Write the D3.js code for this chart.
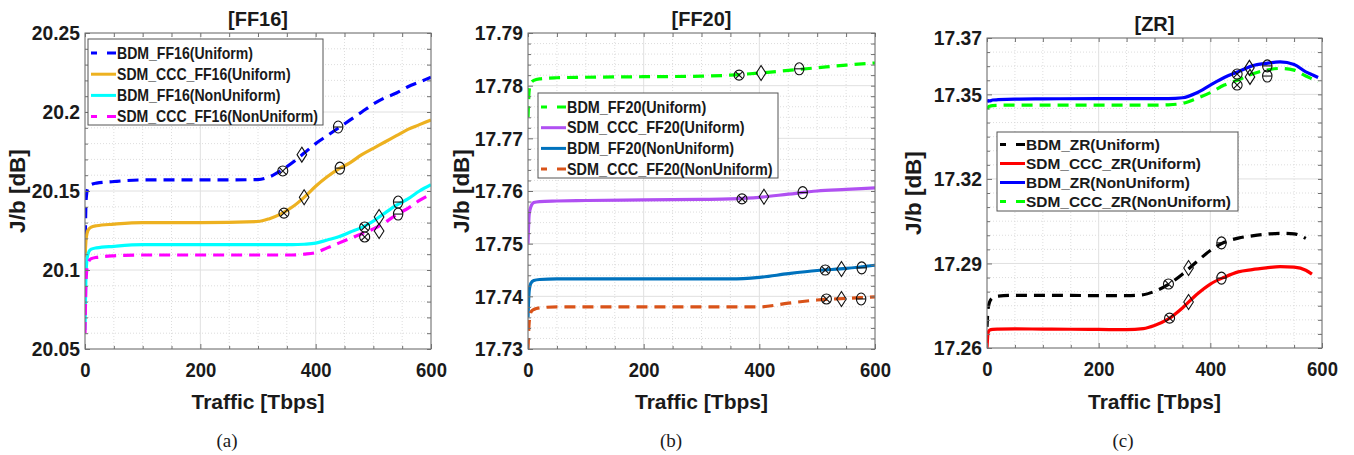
<!DOCTYPE html>
<html>
<head>
<meta charset="utf-8">
<script src="https://cdn.jsdelivr.net/npm/d3@7"></script>
<style>
  body { margin: 0; background: #fff; }
  svg { display: block; }
  text { font-family: "Liberation Sans", Arial, sans-serif; font-weight: bold; fill: #1a1a1a; }
</style>
</head>
<body>
<svg id="chart" width="1354" height="455"></svg>
<script>
// ---- shared ----
const xTicks = [0, 200, 400, 600];

// ---- panel (a) FF16 ----
const ff16X      = [0, 2, 5, 10, 20, 50, 100, 200, 300, 320, 340, 360, 380, 400, 420, 440, 460, 480, 500, 520, 540, 560, 580, 600];
const ff16BdmUni = [20.110, 20.145, 20.152, 20.154, 20.155, 20.156, 20.157, 20.157, 20.1572, 20.159, 20.163, 20.168, 20.174, 20.180, 20.185, 20.190, 20.195, 20.200, 20.205, 20.209, 20.212, 20.216, 20.219, 20.222];
const ff16SdmUni = [20.108, 20.120, 20.125, 20.127, 20.128, 20.129, 20.130, 20.130, 20.1307, 20.1325, 20.1355, 20.140, 20.146, 20.153, 20.159, 20.164, 20.168, 20.173, 20.177, 20.181, 20.185, 20.189, 20.192, 20.195];
const ff16BdmNon = [20.062, 20.100, 20.110, 20.113, 20.114, 20.115, 20.116, 20.116, 20.116, 20.116, 20.116, 20.116, 20.1163, 20.117, 20.119, 20.121, 20.124, 20.127, 20.131, 20.136, 20.141, 20.145, 20.150, 20.154];
const ff16SdmNon = [20.060, 20.095, 20.104, 20.107, 20.108, 20.109, 20.1095, 20.1095, 20.1095, 20.1095, 20.1095, 20.1095, 20.110, 20.111, 20.114, 20.117, 20.120, 20.123, 20.126, 20.130, 20.135, 20.139, 20.144, 20.148];
const ff16YTicks = [20.05, 20.1, 20.15, 20.2, 20.25];
const ff16Otimes  = [[343, 20.1627], [345, 20.136], [485, 20.1272], [485, 20.1209]];
const ff16Diamond = [[376, 20.173], [380, 20.146], [510, 20.1335], [510, 20.1247]];
const ff16Theta   = [[439, 20.1905], [442, 20.1645], [543, 20.143], [543, 20.1354]];

// ---- panel (b) FF20 ----
const ff20X      = [0, 2, 5, 10, 20, 50, 100, 200, 300, 350, 400, 450, 500, 550, 600];
const ff20BdmUni = [17.774, 17.779, 17.7805, 17.781, 17.7813, 17.7815, 17.7816, 17.7817, 17.7818, 17.782, 17.7824, 17.7829, 17.7834, 17.7839, 17.7843];
const ff20SdmUni = [17.750, 17.7555, 17.757, 17.7578, 17.758, 17.7581, 17.7582, 17.7583, 17.7584, 17.7585, 17.7588, 17.7594, 17.760, 17.7603, 17.7606];
const ff20BdmNon = [17.736, 17.741, 17.7425, 17.743, 17.7432, 17.7433, 17.7433, 17.7433, 17.7433, 17.7433, 17.7436, 17.7443, 17.7449, 17.7453, 17.7459];
const ff20SdmNon = [17.730, 17.735, 17.737, 17.7375, 17.7378, 17.738, 17.738, 17.738, 17.738, 17.738, 17.738, 17.7387, 17.7393, 17.7396, 17.7399];
const ff20YTicks = [17.73, 17.74, 17.75, 17.76, 17.77, 17.78, 17.79];
const ff20Otimes  = [[365, 17.782], [370, 17.7585], [514, 17.745], [516, 17.7395]];
const ff20Diamond = [[403, 17.7824], [408, 17.7589], [542, 17.7452], [542, 17.7395]];
const ff20Theta   = [[469, 17.7832], [475, 17.7597], [577, 17.7454], [576, 17.7395]];

// ---- panel (c) ZR ----
const zrX      = [0, 2, 5, 10, 20, 50, 100, 200, 250, 280, 300, 325, 350, 375, 400, 425, 450, 475, 500, 525, 550, 571, 582, 593];
const zrBdmUni = [17.2675, 17.274, 17.2765, 17.2778, 17.2784, 17.2787, 17.2787, 17.2786, 17.2786, 17.2789, 17.2801, 17.2826, 17.2862, 17.2905, 17.2946, 17.2975, 17.2990, 17.2998, 17.3004, 17.3007, 17.3005, 17.2989, null, null];
const zrSdmUni = [17.260, 17.2655, 17.2664, 17.2666, 17.2667, 17.2668, 17.2667, 17.2666, 17.2665, 17.2669, 17.2680, 17.2703, 17.2742, 17.2789, 17.2827, 17.2851, 17.2870, 17.2878, 17.2884, 17.2889, 17.2887, 17.2876, 17.2862, null];
const zrBdmNon = [17.3472, 17.3478, 17.3477, 17.348, 17.3481, 17.3483, 17.3484, 17.3485, 17.3485, 17.3485, 17.3485, 17.3485, 17.3488, 17.3505, 17.3533, 17.356, 17.358, 17.3601, 17.361, 17.3615, 17.3606, 17.358, 17.357, 17.356];
const zrSdmNon = [17.3448, 17.3455, 17.3458, 17.346, 17.3461, 17.3462, 17.3462, 17.3462, 17.3462, 17.3462, 17.3462, 17.3463, 17.3468, 17.3485, 17.3506, 17.3533, 17.3551, 17.3572, 17.3586, 17.3592, 17.3586, 17.3565, 17.3555, 17.3545];
const zrYTicks = [17.26, 17.29, 17.32, 17.35, 17.37];
const zrOtimes  = [[325, 17.2827], [327, 17.2706], [448, 17.3572], [448, 17.3533]];
const zrDiamond = [[361, 17.2884], [361, 17.2763], [470, 17.3594], [471, 17.3562]];
const zrTheta   = [[420, 17.2973], [420, 17.2848], [502, 17.3601], [502, 17.3565]];

const DASH = "11,7";
const svg = d3.select("#chart");

const panels = [
  {
    id: "a", title: "[FF16]", sub: "(a)", subX: 227,
    left: 85, right: 431, top: 33, bottom: 349,
    yDomain: [20.05, 20.25], yTicks: ff16YTicks, yMinor: 0.01, ylabX: 17,
    xs: ff16X,
    series: [
      { name: "BDM_FF16(Uniform)", values: ff16BdmUni, color: "#0000ff", dash: true },
      { name: "SDM_CCC_FF16(Uniform)", values: ff16SdmUni, color: "#edb120", dash: false },
      { name: "BDM_FF16(NonUniform)", values: ff16BdmNon, color: "#00ffff", dash: false },
      { name: "SDM_CCC_FF16(NonUniform)", values: ff16SdmNon, color: "#ff00ff", dash: true }
    ],
    otimes: ff16Otimes, diamond: ff16Diamond, theta: ff16Theta,
    legend: { x: 88, y: 39, w: 235, h: 86, row: 21.2, first: 14, font: 16, sx: 0.88 }
  },
  {
    id: "b", title: "[FF20]", sub: "(b)", subX: 671,
    left: 528, right: 875, top: 33, bottom: 349,
    yDomain: [17.73, 17.79], yTicks: ff20YTicks, yMinor: 0.002, ylabX: 461,
    xs: ff20X,
    series: [
      { name: "BDM_FF20(Uniform)", values: ff20BdmUni, color: "#00ff00", dash: true },
      { name: "SDM_CCC_FF20(Uniform)", values: ff20SdmUni, color: "#b050f2", dash: false },
      { name: "BDM_FF20(NonUniform)", values: ff20BdmNon, color: "#0072bd", dash: false },
      { name: "SDM_CCC_FF20(NonUniform)", values: ff20SdmNon, color: "#d95319", dash: true }
    ],
    otimes: ff20Otimes, diamond: ff20Diamond, theta: ff20Theta,
    legend: { x: 538, y: 93, w: 240, h: 85, row: 20.7, first: 14, font: 16, sx: 0.9 }
  },
  {
    id: "c", title: "[ZR]", sub: "(c)", subX: 1123,
    left: 987, right: 1322, top: 38, bottom: 348,
    yDomain: [17.26, 17.37], yTicks: zrYTicks, yMinor: 0.005, ylabX: 913,
    xs: zrX,
    series: [
      { name: "BDM_ZR(Uniform)", values: zrBdmUni, color: "#000000", dash: true },
      { name: "SDM_CCC_ZR(Uniform)", values: zrSdmUni, color: "#ff0000", dash: false },
      { name: "BDM_ZR(NonUniform)", values: zrBdmNon, color: "#0000ff", dash: false },
      { name: "SDM_CCC_ZR(NonUniform)", values: zrSdmNon, color: "#00ff00", dash: true }
    ],
    otimes: zrOtimes, diamond: zrDiamond, theta: zrTheta,
    legend: { x: 997, y: 132, w: 241, h: 79, row: 19, first: 12.5, font: 15, sx: 1.03 }
  }
];

panels.forEach(drawPanel);

// squeeze a text element horizontally around a chosen origin
function squeeze(sel, sx, origin) {
  sel.style("transform-box", "fill-box")
    .style("transform-origin", origin)
    .style("transform", `scaleX(${sx})`);
}

function drawPanel(p) {
  const g = svg.append("g").attr("class", "panel-" + p.id);
  const x = d3.scaleLinear().domain([0, 600]).range([p.left, p.right]);
  const y = d3.scaleLinear().domain(p.yDomain).range([p.bottom, p.top]);

  // minor grid (dotted)
  const xMinor = d3.range(0, 601, 50).filter(v => xTicks.indexOf(v) < 0);
  const n = Math.round((p.yDomain[1] - p.yDomain[0]) / p.yMinor);
  const yMinor = d3.range(0, n + 1).map(i => p.yDomain[0] + i * p.yMinor)
    .filter(v => !p.yTicks.some(t => Math.abs(t - v) < p.yMinor / 10));

  g.selectAll(".gx-minor").data(xMinor).enter().append("line")
    .attr("x1", d => x(d)).attr("x2", d => x(d))
    .attr("y1", p.top).attr("y2", p.bottom)
    .style("stroke", "#d4d4d4").style("stroke-width", 0.8).style("stroke-dasharray", "1,2");
  g.selectAll(".gy-minor").data(yMinor).enter().append("line")
    .attr("y1", d => y(d)).attr("y2", d => y(d))
    .attr("x1", p.left).attr("x2", p.right)
    .style("stroke", "#d4d4d4").style("stroke-width", 0.8).style("stroke-dasharray", "1,2");

  // major grid
  g.selectAll(".gx").data(xTicks).enter().append("line")
    .attr("x1", d => x(d)).attr("x2", d => x(d))
    .attr("y1", p.top).attr("y2", p.bottom)
    .style("stroke", "#e0e0e0").style("stroke-width", 1);
  g.selectAll(".gy").data(p.yTicks).enter().append("line")
    .attr("y1", d => y(d)).attr("y2", d => y(d))
    .attr("x1", p.left).attr("x2", p.right)
    .style("stroke", "#e0e0e0").style("stroke-width", 1);

  // curves, clipped to the plot box
  const clipId = "clip-" + p.id;
  svg.append("clipPath").attr("id", clipId).append("rect")
    .attr("x", p.left).attr("y", p.top)
    .attr("width", p.right - p.left).attr("height", p.bottom - p.top);

  const line = d3.line()
    .defined(d => d[1] != null)
    .x(d => x(d[0])).y(d => y(d[1]))
    .curve(d3.curveMonotoneX);

  const curves = g.append("g").attr("clip-path", `url(#${clipId})`);
  p.series.forEach(s => {
    curves.append("path")
      .datum(p.xs.map((xv, i) => [xv, s.values[i]]))
      .attr("d", line)
      .style("fill", "none")
      .style("stroke", s.color)
      .style("stroke-width", 3.2)
      .style("stroke-dasharray", s.dash ? DASH : null);
  });

  // markers
  const mk = g.append("g").style("fill", "none").style("stroke", "#111").style("stroke-width", 1.1);
  p.otimes.forEach(d => {
    const cx = x(d[0]), cy = y(d[1]), r = 5, k = r * 0.72;
    mk.append("circle").attr("cx", cx).attr("cy", cy).attr("r", r);
    mk.append("path").attr("d", `M${cx - k},${cy - k}L${cx + k},${cy + k}M${cx - k},${cy + k}L${cx + k},${cy - k}`);
  });
  p.diamond.forEach(d => {
    const cx = x(d[0]), cy = y(d[1]);
    mk.append("path").attr("d", `M${cx},${cy - 7.5}L${cx + 4.8},${cy}L${cx},${cy + 7.5}L${cx - 4.8},${cy}Z`);
  });
  p.theta.forEach(d => {
    const cx = x(d[0]), cy = y(d[1]);
    mk.append("ellipse").attr("cx", cx).attr("cy", cy).attr("rx", 4.7).attr("ry", 6);
    mk.append("line").attr("x1", cx - 4.7).attr("x2", cx + 4.7).attr("y1", cy).attr("y2", cy);
  });

  // axes: box + inward ticks (major and minor)
  const axisColor = "#707070";
  const styleAxis = sel => {
    sel.select(".domain").remove();
    sel.selectAll("line").style("stroke", axisColor);
    sel.selectAll("text").style("font-size", "21px").style("fill", "#1a1a1a")
      .style("font-family", '"Liberation Sans", Arial, sans-serif').style("font-weight", "bold");
  };
  g.append("g").attr("transform", `translate(0,${p.bottom})`)
    .call(d3.axisBottom(x).tickValues(xTicks).tickSize(-5).tickSizeOuter(0).tickPadding(13))
    .call(styleAxis)
    .selectAll("text").call(squeeze, 0.88, "50% 50%");
  g.append("g").attr("transform", `translate(0,${p.bottom})`)
    .call(d3.axisBottom(x).tickValues(xMinor).tickSize(-3).tickFormat(""))
    .call(styleAxis);
  g.append("g").attr("transform", `translate(0,${p.top})`)
    .call(d3.axisTop(x).tickValues(xTicks.concat(xMinor)).tickSize(-4).tickFormat(""))
    .call(styleAxis);
  g.append("g").attr("transform", `translate(${p.left},0)`)
    .call(d3.axisLeft(y).tickValues(p.yTicks).tickSize(-5).tickPadding(5).tickFormat(d => String(d)))
    .call(styleAxis)
    .selectAll("text").call(squeeze, 0.92, "100% 50%");
  g.append("g").attr("transform", `translate(${p.left},0)`)
    .call(d3.axisLeft(y).tickValues(yMinor).tickSize(-3).tickFormat(""))
    .call(styleAxis);
  g.append("g").attr("transform", `translate(${p.right},0)`)
    .call(d3.axisRight(y).tickValues(p.yTicks.concat(yMinor)).tickSize(-4).tickFormat(""))
    .call(styleAxis);

  g.append("rect")
    .attr("x", p.left).attr("y", p.top)
    .attr("width", p.right - p.left).attr("height", p.bottom - p.top)
    .style("fill", "none").style("stroke", axisColor).style("stroke-width", 1);

  // titles and labels
  const cx = (p.left + p.right) / 2;
  g.append("text").attr("x", cx).attr("y", p.top - 7)
    .attr("text-anchor", "middle").style("font-size", "21px").text(p.title)
    .call(squeeze, 0.95, "50% 50%");
  g.append("text").attr("x", cx).attr("y", 409)
    .attr("text-anchor", "middle").style("font-size", "21px").text("Traffic [Tbps]");
  g.append("text")
    .attr("transform", `translate(${p.ylabX},${(p.top + p.bottom) / 2}) rotate(-90)`)
    .attr("text-anchor", "middle").attr("dy", "0.35em")
    .style("font-size", "22.5px").text("J/b [dB]");
  g.append("text").attr("x", p.subX).attr("y", 447)
    .attr("text-anchor", "middle")
    .style("font-family", '"Liberation Serif", "Times New Roman", serif')
    .style("font-weight", "normal").style("font-size", "19px")
    .text(p.sub);

  // legend
  const L = p.legend;
  const lg = g.append("g");
  lg.append("rect").attr("x", L.x).attr("y", L.y).attr("width", L.w).attr("height", L.h)
    .style("fill", "#fff").style("stroke", "#555").style("stroke-width", 1);
  p.series.forEach((s, i) => {
    const ry = L.y + L.first + i * L.row;
    lg.append("line")
      .attr("x1", L.x + 3).attr("x2", L.x + 28).attr("y1", ry).attr("y2", ry)
      .style("stroke", s.color).style("stroke-width", 3)
      .style("stroke-dasharray", s.dash ? "6,10,9" : null);
    lg.append("text").attr("x", L.x + 29).attr("y", ry).attr("dy", "0.36em")
      .style("font-size", L.font + "px").text(s.name)
      .call(squeeze, L.sx, "0% 50%");
  });
}
</script>
</body>
</html>
